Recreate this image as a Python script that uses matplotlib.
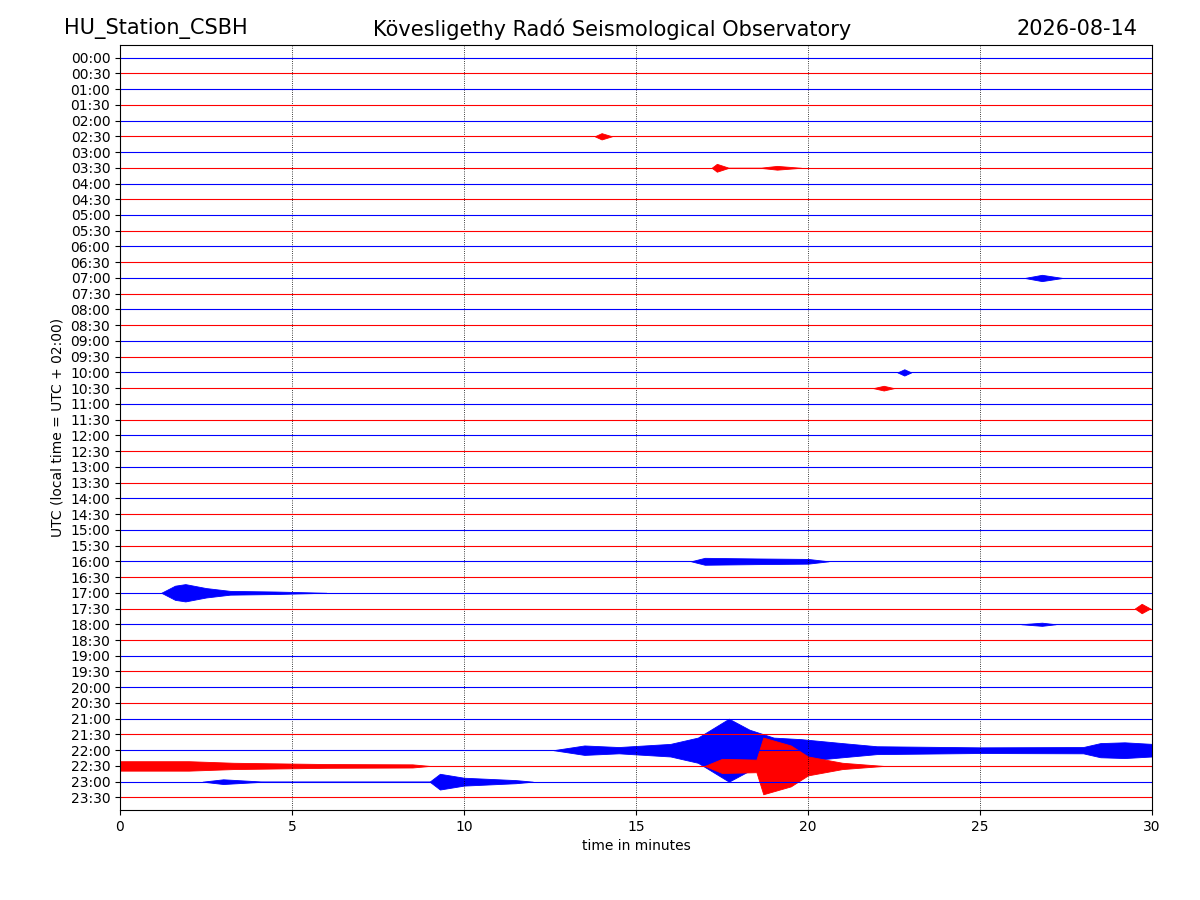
import numpy as np
import matplotlib.pyplot as plt

station = "HU_Station_CSBH"
title = "Kövesligethy Radó Seismological Observatory"
date = "2026-08-14"

row_labels = [f"{h:02d}:{m:02d}" for h in range(24) for m in (0, 30)]

# envelopes: row -> list of (minute, half-amplitude in row units)
events = {
    5: [(13.8, 0), (14.0, 0.2), (14.3, 0)],
    7: [(17.2, 0), (17.35, 0.25), (17.7, 0), (18.6, 0), (19.1, 0.12), (19.8, 0)],
    14: [(26.3, 0), (26.8, 0.2), (27.4, 0)],
    20: [(22.6, 0), (22.8, 0.2), (23.0, 0)],
    21: [(21.9, 0), (22.2, 0.15), (22.5, 0)],
    32: [(16.6, 0), (17.0, 0.22), (18.5, 0.18), (20.0, 0.15), (20.6, 0)],
    34: [(1.2, 0), (1.6, 0.45), (1.9, 0.55), (2.5, 0.3), (3.2, 0.12), (4.5, 0.08), (6.0, 0)],
    35: [(29.5, 0), (29.7, 0.3), (29.95, 0)],
    36: [(26.2, 0), (26.8, 0.1), (27.2, 0)],
    44: [(12.6, 0), (13.5, 0.3), (14.5, 0.2), (16.0, 0.4), (16.8, 0.8), (17.7, 2.0),
         (18.3, 1.3), (19.0, 0.8), (19.8, 0.7), (21.0, 0.45), (22.0, 0.25), (25.0, 0.18),
         (28.0, 0.2), (28.5, 0.45), (29.2, 0.5), (30.0, 0.4)],
    45: [(0.0, 0.3), (2.0, 0.3), (3.3, 0.2), (6.0, 0.12), (8.5, 0.1), (9.0, 0),
         (17.0, 0), (17.5, 0.45), (18.5, 0.4), (18.7, 1.8), (19.5, 1.3), (20.0, 0.6),
         (21.0, 0.2), (22.2, 0)],
    46: [(2.4, 0), (3.0, 0.15), (4.2, 0), (9.0, 0), (9.3, 0.5), (10.0, 0.25), (11.5, 0.1), (12.0, 0)],
}

fig = plt.figure(figsize=(12, 9), dpi=100)
ax = fig.add_axes([0.1, 0.1, 0.86, 0.85])

for i, lab in enumerate(row_labels):
    c = 'blue' if i % 2 == 0 else 'red'
    ax.plot([0, 30], [i, i], color=c, linewidth=0.8)
    if i in events:
        pts = np.array(events[i])
        ax.fill_between(pts[:, 0], i - pts[:, 1], i + pts[:, 1], color=c, linewidth=0.6)

ax.set_xlim(0, 30)
ax.set_ylim(47.8, -0.8)
ax.set_yticks(range(len(row_labels)))
ax.set_yticklabels(row_labels)
ax.set_xticks(range(0, 31, 5))
ax.xaxis.grid(True, linestyle=':', color='black', linewidth=0.6)
ax.set_xlabel("time in minutes")
ax.set_ylabel("UTC (local time = UTC + 02:00)")

fig.text(0.053, 0.968, station, fontsize=15, ha='left', va='center')
fig.text(0.51, 0.968, title, fontsize=15, ha='center', va='center')
fig.text(0.948, 0.968, date, fontsize=15, ha='right', va='center')

fig.savefig("out.png", dpi=100)
